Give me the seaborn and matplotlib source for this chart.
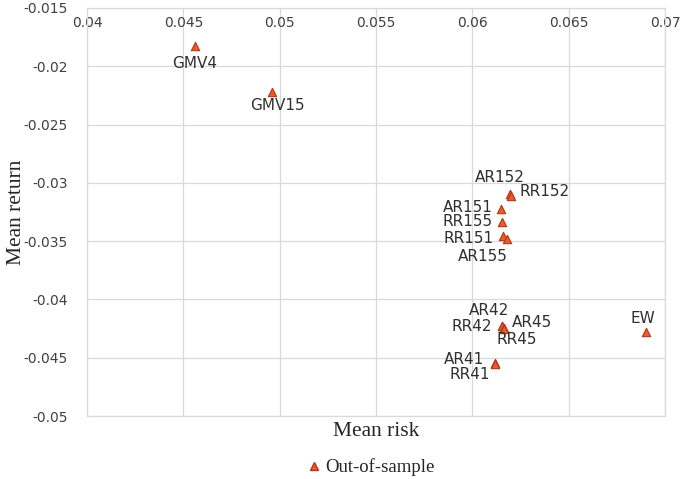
import matplotlib
matplotlib.use('Agg')
import matplotlib.pyplot as plt
import seaborn as sns
import pandas as pd
from matplotlib.ticker import FuncFormatter

# values
names = ['GMV4', 'GMV15', 'AR152', 'RR152', 'AR151', 'RR155', 'RR151', 'AR155',
         'AR42', 'RR42', 'AR45', 'RR45', 'EW', 'AR41', 'RR41']
mean_risk = [0.0456, 0.0496, 0.06195, 0.0620, 0.06147, 0.06156, 0.06159, 0.06178,
             0.06156, 0.06153, 0.06163, 0.06165, 0.06899, 0.06116, 0.06118]
mean_return = [-0.01826, -0.0222, -0.0310, -0.03112, -0.03224, -0.03333, -0.03455, -0.03479,
               -0.04227, -0.04230, -0.04247, -0.04250, -0.04281, -0.04547, -0.04550]

x_ticks = [0.04, 0.045, 0.05, 0.055, 0.06, 0.065, 0.07]
y_ticks = [-0.05, -0.045, -0.04, -0.035, -0.03, -0.025, -0.02, -0.015]

# label placement (offset in points, horizontal alignment)
label_pos = {
    'GMV4': (0, -13, 'center'), 'GMV15': (4, -10, 'center'),
    'AR152': (-7, 12, 'center'), 'RR152': (6, 3, 'left'),
    'AR151': (-6, 1, 'right'), 'RR155': (-7, 0, 'right'),
    'RR151': (-7, -2, 'right'), 'AR155': (-17, -13, 'center'),
    'AR42': (-10, 11, 'center'), 'RR42': (-7, 0, 'right'),
    'AR45': (6, 4, 'left'), 'RR45': (9, -8, 'center'),
    'EW': (-2, 10, 'center'), 'AR41': (-8, 3, 'right'), 'RR41': (-18, -8, 'center'),
}

df = pd.DataFrame({'name': names, 'risk': mean_risk, 'ret': mean_return})

sns.set_style('white')
plt.rcParams['font.family'] = ['DejaVu Sans']

fig = plt.figure(figsize=(6.85, 4.79), dpi=100)
ax = fig.add_axes([0.127, 0.1315, 0.844, 0.852])

sns.scatterplot(data=df, x='risk', y='ret', marker='^', s=36, color='#EA5B2C',
                edgecolor='#B5361A', linewidth=0.8, ax=ax, zorder=3, legend=False)

for n, xv, yv in zip(names, mean_risk, mean_return):
    dx, dy, ha = label_pos[n]
    ax.annotate(n, (xv, yv), xytext=(dx, dy), textcoords='offset points',
                ha=ha, va='center', fontsize=11, color='#303030')

ax.set_xlim(0.04, 0.07)
ax.set_ylim(-0.05, -0.015)
ax.set_xticks(x_ticks)
ax.set_yticks(y_ticks)
fmt = FuncFormatter(lambda v, p: '%g' % round(v, 4))
ax.xaxis.set_major_formatter(fmt)
ax.yaxis.set_major_formatter(fmt)
ax.grid(True, color='#D9D9D9', linewidth=0.9)
ax.set_axisbelow(True)
for s in ax.spines.values():
    s.set_color('#D9D9D9')
    s.set_linewidth(0.9)

ax.tick_params(axis='x', top=False, bottom=False, labeltop=True, labelbottom=False,
               pad=-16, labelsize=10, labelcolor='#404040', length=0)
ax.tick_params(axis='y', left=False, labelsize=10, labelcolor='#404040', pad=14, length=0)

ax.set_xlabel('Mean risk', family='Liberation Serif', fontsize=15.5, labelpad=4)
ax.xaxis.set_label_position('bottom')
ax.set_ylabel('Mean return', family='Liberation Serif', fontsize=15.5)
ax.yaxis.set_label_coords(-0.106, 0.5)

handles = [plt.Line2D([], [], marker='^', linestyle='', markersize=6,
                      markerfacecolor='#EA5B2C', markeredgecolor='#B5361A')]
fig.legend(handles, ['Out-of-sample'], loc='lower center', bbox_to_anchor=(0.54, -0.03),
           frameon=False, prop={'family': 'Liberation Serif', 'size': 13.5},
           handletextpad=0.1, handlelength=1.0)

fig.savefig('out.png', dpi=100)
